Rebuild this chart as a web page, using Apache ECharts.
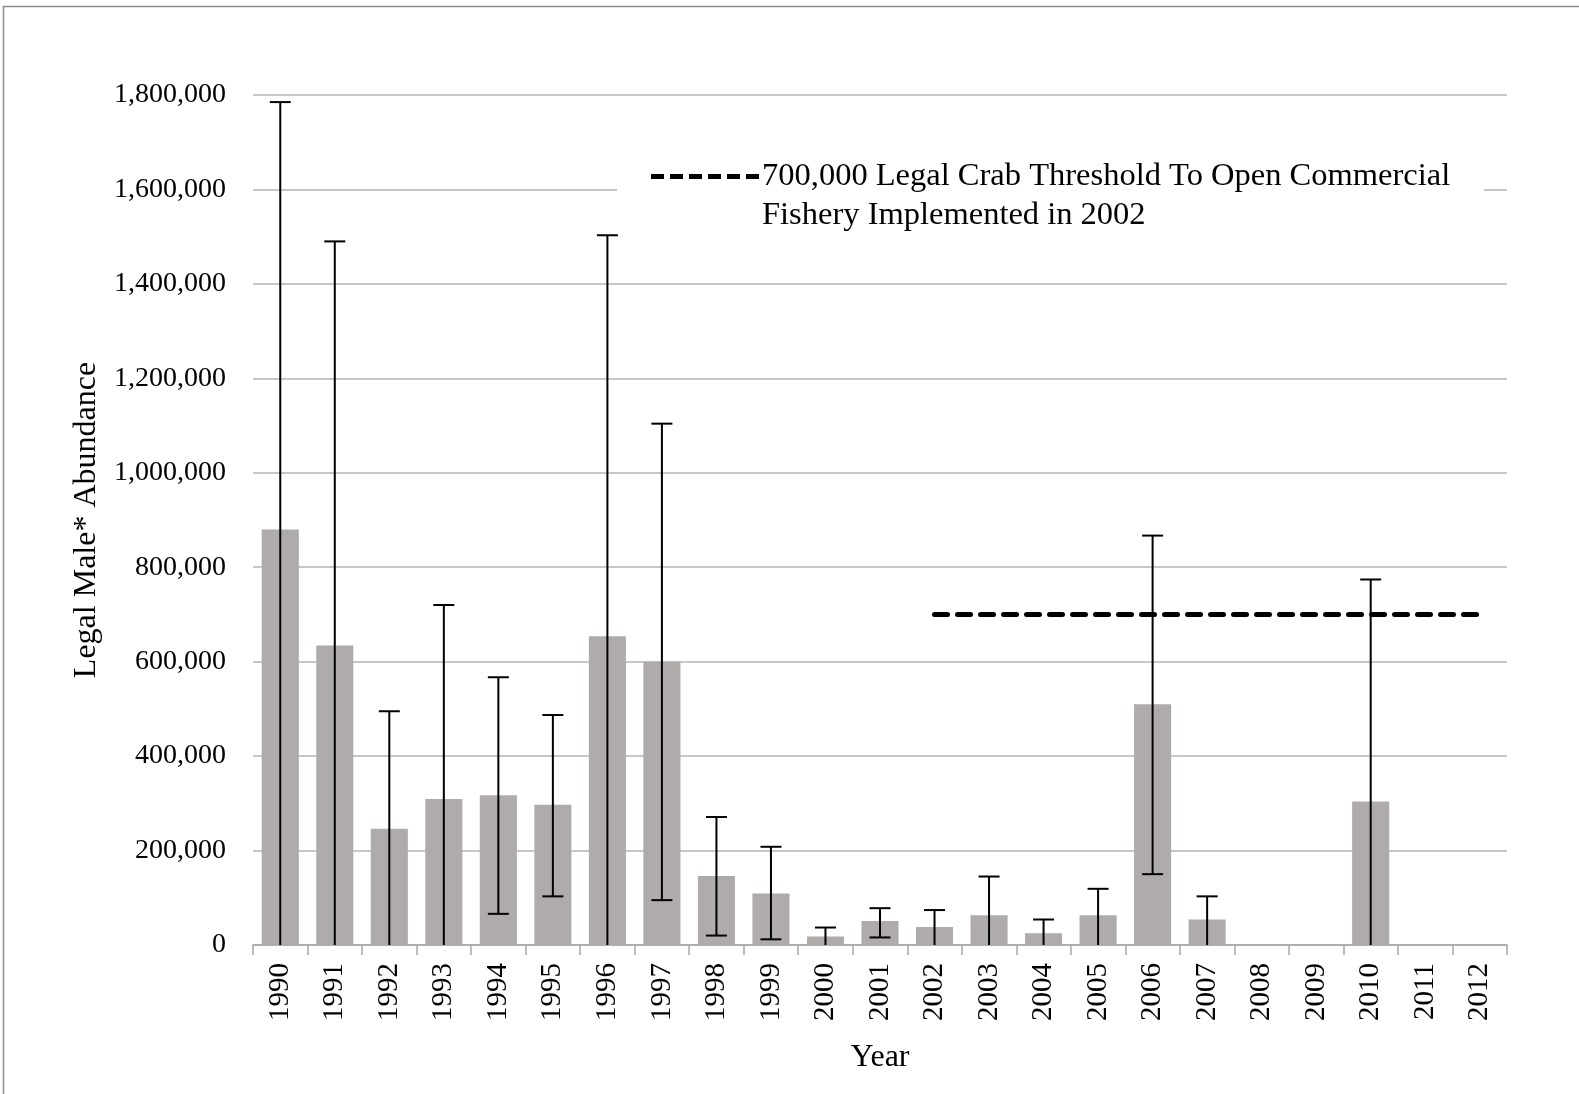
<!DOCTYPE html>
<html>
<head>
<meta charset="utf-8">
<title>Legal Male Abundance by Year</title>
<script src="https://cdn.jsdelivr.net/npm/echarts@6/dist/echarts.min.js"></script>
<style>
  html, body { margin: 0; padding: 0; background: #fff; }
  #chart { width: 1579px; height: 1094px; }
</style>
</head>
<body>
<div id="chart"></div>
<script>
// Survey years
const years = ['1990','1991','1992','1993','1994','1995','1996','1997','1998','1999',
  '2000','2001','2002','2003','2004','2005','2006','2007','2008','2009','2010','2011','2012'];

// Estimated legal male abundance
const abundance = [880000, 634000, 246000, 309000, 317000, 297000, 654000, 600000, 146000, 109000,
  18000, 51000, 38000, 63000, 25000, 63000, 510000, 54000, 0, 0, 304000, 0, 0];

// Confidence interval bounds (null where no interval is shown)
const lowerBound = [0, 0, 0, 0, 66000, 103000, 0, 95000, 20000, 12000,
  0, 16000, 0, 0, 0, 0, 150000, 0, null, null, 0, null, null];
const upperBound = [1785000, 1490000, 495000, 720000, 567000, 487000, 1503000, 1104000, 271000, 208000,
  37000, 78000, 74000, 145000, 54000, 119000, 867000, 103000, null, null, 774000, null, null];

// Commercial fishery opening threshold, in force from 2002
const thresholdValue = 700000;
const thresholdStartYear = '2002';
const thresholdName = '700,000 Legal Crab Threshold To Open Commercial';
const thresholdNameLine2 = 'Fishery Implemented in 2002';

// Y axis ticks
const yMin = 0, yMax = 1800000, yStep = 200000;

const thresholdData = years.map(y => (+y >= +thresholdStartYear ? thresholdValue : '-'));
const errorData = years.map((y, i) => [i, lowerBound[i], upperBound[i]]).filter(d => d[2] != null);

// Six short dashes for the legend swatch
const dashIcon = 'path://M0,0h13v5h-13z M19,0h13v5h-13z M38,0h13v5h-13z M57,0h13v5h-13z M76,0h13v5h-13z M95,0h13v5h-13z';

const FONT = '"Liberation Serif", "Times New Roman", serif';
const chart = echarts.init(document.getElementById('chart'), null, { renderer: 'canvas' });

chart.setOption({
  backgroundColor: '#ffffff',
  animation: false,
  textStyle: { fontFamily: FONT, color: '#000' },
  graphic: [{
    type: 'rect',
    shape: { x: 3.5, y: 6.5, width: 1700, height: 1200 },
    style: { fill: 'none', stroke: '#8c8c8c', lineWidth: 1.5 },
    silent: true
  }],
  grid: { left: 253, right: 72, top: 95, bottom: 149, containLabel: false },
  legend: {
    show: true,
    left: 617,
    top: 114,
    orient: 'horizontal',
    backgroundColor: '#ffffff',
    padding: [4, 34, 4, 34],
    itemWidth: 108,
    itemHeight: 5,
    itemGap: 0,
    data: [{ name: thresholdName, icon: dashIcon }],
    formatter: name => '\n' + name + '\n' + thresholdNameLine2,
    textStyle: { fontFamily: FONT, fontSize: 32.5, color: '#000', lineHeight: 39, padding: [0, 0, 0, -2] }
  },
  xAxis: {
    type: 'category',
    data: years,
    name: 'Year',
    nameLocation: 'middle',
    nameGap: 97,
    nameTextStyle: { fontFamily: FONT, fontSize: 32, color: '#000' },
    boundaryGap: true,
    axisLine: { show: true, lineStyle: { color: '#a6a6a6', width: 1.5 } },
    axisTick: { show: true, length: 10, alignWithLabel: false, interval: 0, lineStyle: { color: '#a6a6a6', width: 1.5 } },
    axisLabel: { rotate: 90, interval: 0, margin: 18, fontFamily: FONT, fontSize: 29, color: '#000' },
    splitLine: { show: false }
  },
  yAxis: {
    type: 'value',
    min: yMin,
    max: yMax,
    interval: yStep,
    name: 'Legal Male* Abundance',
    nameLocation: 'middle',
    nameGap: 150,
    nameTextStyle: { fontFamily: FONT, fontSize: 32, color: '#000' },
    axisLine: { show: false },
    axisTick: { show: false },
    axisLabel: {
      margin: 27,
      fontFamily: FONT,
      fontSize: 28,
      color: '#000',
      formatter: v => v.toLocaleString('en-US')
    },
    splitLine: { show: true, lineStyle: { color: '#b5b5b5', width: 1.5 } }
  },
  series: [
    {
      name: 'Abundance',
      type: 'bar',
      data: abundance,
      barWidth: '68%',
      itemStyle: { color: '#aeabaa' },
      z: 2
    },
    {
      name: 'Confidence interval',
      type: 'custom',
      data: errorData,
      z: 5,
      renderItem: function (params, api) {
        const idx = api.value(0);
        const lo = api.coord([idx, api.value(1)]);
        const hi = api.coord([idx, api.value(2)]);
        const half = 10.5;
        const style = { stroke: '#000', lineWidth: 2, fill: null };
        const children = [
          { type: 'line', shape: { x1: hi[0], y1: hi[1], x2: lo[0], y2: lo[1] }, style },
          { type: 'line', shape: { x1: hi[0] - half, y1: hi[1], x2: hi[0] + half, y2: hi[1] }, style }
        ];
        if (api.value(1) > 0) {
          children.push({ type: 'line', shape: { x1: lo[0] - half, y1: lo[1], x2: lo[0] + half, y2: lo[1] }, style });
        }
        return { type: 'group', children };
      }
    },
    {
      name: thresholdName,
      type: 'line',
      data: thresholdData,
      symbol: 'none',
      showSymbol: false,
      connectNulls: false,
      lineStyle: { color: '#000', width: 5, type: [13, 10], cap: 'round' },
      itemStyle: { color: '#000' },
      z: 6
    }
  ]
});
</script>
</body>
</html>
